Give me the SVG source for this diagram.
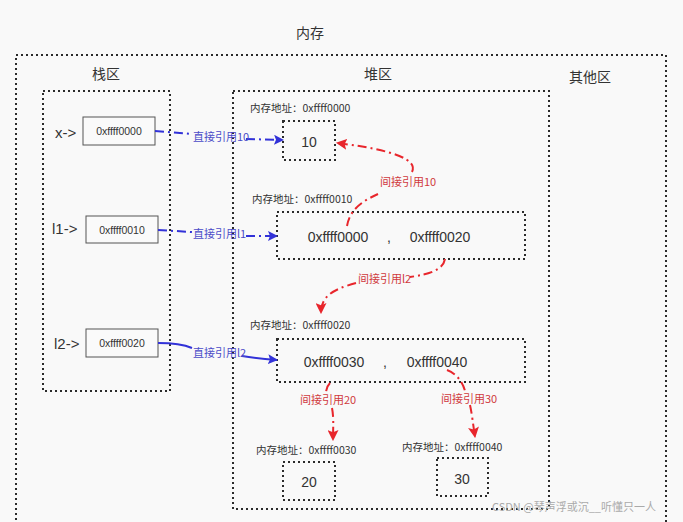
<svg xmlns="http://www.w3.org/2000/svg" width="683" height="522" viewBox="0 0 683 522">
<defs>
<style>
.dot{fill:none;stroke:#2b2b2b;stroke-width:2;stroke-dasharray:2,3}
.box{fill:#fafafa;stroke:#555;stroke-width:1}
.t{font-family:"Liberation Sans","Noto Sans CJK SC",sans-serif;fill:#333}
.cj{font-family:"Noto Sans CJK SC","Liberation Sans",sans-serif;fill:#333}
.blue{fill:none;stroke:#3232d8;stroke-width:2}
.red{fill:none;stroke:#e8262c;stroke-width:2;stroke-dasharray:9,4,2,4}
.bl{font-family:"Noto Sans CJK SC",sans-serif;font-size:11px;fill:#4b4bc8}
.rl{font-family:"Noto Sans CJK SC",sans-serif;font-size:11px;fill:#d0393d}
</style>
<marker id="ab" viewBox="0 0 10 10" refX="9" refY="5" markerWidth="10" markerHeight="10" markerUnits="userSpaceOnUse" orient="auto"><path d="M0,0 L10,5 L0,10 L2,5 Z" fill="#3232d8"/></marker>
<marker id="ar" viewBox="0 0 10 10" refX="9" refY="5" markerWidth="11" markerHeight="11" markerUnits="userSpaceOnUse" orient="auto"><path d="M0,0 L10,5 L0,10 L2,5 Z" fill="#e8262c"/></marker>
</defs>
<rect width="683" height="522" fill="#f9f9f9"/>
<text class="cj" x="310" y="38" font-size="14" text-anchor="middle">内存</text>
<g id="memory"><path class="dot" d="M16,530 L16,55 L666,55 L666,530"/></g>
<g id="stack"><rect class="dot" x="43" y="91" width="127" height="300"/><text class="cj" x="106" y="79" font-size="14" text-anchor="middle">栈区</text></g>
<g id="heap"><rect class="dot" x="233" y="91" width="316" height="418"/><text class="cj" x="378" y="79" font-size="14" text-anchor="middle">堆区</text></g>
<g id="other"><text class="cj" x="590" y="82" font-size="14" text-anchor="middle">其他区</text></g>

<g id="x"><text class="t" x="55" y="138" font-size="15">x-&gt;</text><rect class="box" x="83" y="117" width="72" height="28"/><text class="t" x="119" y="135" font-size="10.5" text-anchor="middle">0xffff0000</text></g>
<g id="l1"><text class="t" x="52" y="234" font-size="15">l1-&gt;</text><rect class="box" x="86" y="216" width="72" height="27"/><text class="t" x="122" y="234" font-size="10.5" text-anchor="middle">0xffff0010</text></g>
<g id="l2"><text class="t" x="54" y="349" font-size="15">l2-&gt;</text><rect class="box" x="86" y="329" width="72" height="28"/><text class="t" x="122" y="347" font-size="10.5" text-anchor="middle">0xffff0020</text></g>

<g id="h10"><text class="cj" x="250" y="112" font-size="10.5">内存地址：0xffff0000</text><rect class="dot" x="283" y="121" width="52" height="39"/><text class="t" x="309" y="147" font-size="14" text-anchor="middle">10</text></g>
<g id="hl1"><text class="cj" x="252" y="203" font-size="10.5">内存地址：0xffff0010</text><rect class="dot" x="277" y="212" width="248" height="47"/><text class="t" x="338" y="242" font-size="14" text-anchor="middle">0xffff0000</text><text class="t" x="389" y="242" font-size="14" text-anchor="middle">,</text><text class="t" x="440" y="242" font-size="14" text-anchor="middle">0xffff0020</text></g>
<g id="hl2"><text class="cj" x="250" y="329" font-size="10.5">内存地址：0xffff0020</text><rect class="dot" x="277" y="339" width="248" height="43"/><text class="t" x="334" y="367" font-size="14" text-anchor="middle">0xffff0030</text><text class="t" x="385" y="367" font-size="14" text-anchor="middle">,</text><text class="t" x="437" y="367" font-size="14" text-anchor="middle">0xffff0040</text></g>
<g id="h20"><text class="cj" x="256" y="454" font-size="10.5">内存地址：0xffff0030</text><rect class="dot" x="283" y="462" width="52" height="38"/><text class="t" x="309" y="487" font-size="14" text-anchor="middle">20</text></g>
<g id="h30"><text class="cj" x="402" y="451" font-size="10.5">内存地址：0xffff0040</text><rect class="dot" x="437" y="458" width="51" height="38"/><text class="t" x="462" y="484" font-size="14" text-anchor="middle">30</text></g>

<g id="connectors">
<path class="blue" stroke-dasharray="9,4,2,4" d="M155,131 L192,134"/><path class="blue" stroke-dasharray="9,4,2,4" d="M246,139 L283,140" marker-end="url(#ab)"/>
<text class="bl" x="193" y="141">直接引用10</text>
<path class="blue" stroke-dasharray="9,4,2,4" d="M158,230 L192,232"/><path class="blue" stroke-dasharray="9,4,2,4" d="M246,236 L277,236" marker-end="url(#ab)"/>
<text class="bl" x="193" y="238">直接引用l1</text>
<path class="blue" d="M158,343 C175,343 185,345 192,348"/><path class="blue" d="M242,356 C255,358 265,359 277,360" marker-end="url(#ab)"/>
<text class="bl" x="193" y="357">直接引用l2</text>

<path class="red" d="M347,226 C350,208 365,200 378,194"/>
<path class="red" d="M412,172 C418,160 395,150 337,143" marker-end="url(#ar)"/>
<text class="rl" x="380" y="186">间接引用10</text>
<path class="red" d="M445,259 C443,270 430,274 410,277"/>
<path class="red" d="M356,283 C330,290 321,298 321,313" marker-end="url(#ar)"/>
<text class="rl" x="358" y="283">间接引用l2</text>
<path class="red" d="M330,383 C327,386 326,390 326,393"/>
<path class="red" d="M332,408 C334,418 333,428 333,440" marker-end="url(#ar)"/>
<text class="rl" x="300" y="404">间接引用20</text>
<path class="red" d="M447,370 C455,373 462,380 465,391"/>
<path class="red" d="M470,405 C472,414 473,424 475,437" marker-end="url(#ar)"/>
<text class="rl" x="441" y="403">间接引用30</text>
</g>
<text font-family="Noto Sans CJK SC,sans-serif" x="492" y="511" font-size="11" fill="#aaa">CSDN @琴声浮或沉__听懂只一人</text>
</svg>
